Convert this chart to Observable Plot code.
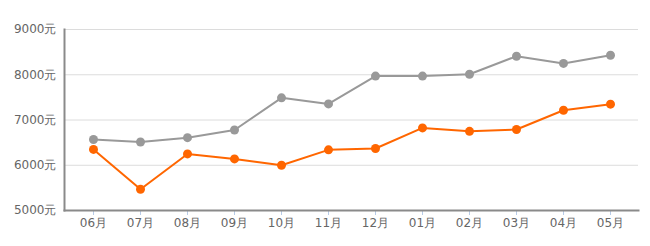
<!DOCTYPE html>
<html>
<head>
<meta charset="utf-8">
<script src="https://cdn.jsdelivr.net/npm/d3@7"></script>
<script src="https://cdn.jsdelivr.net/npm/@observablehq/plot@0.6"></script>
<style>
  html, body { margin: 0; padding: 0; background: #fff; }
  #chart svg { display: block; }
</style>
</head>
<body>
<div id="chart"></div>
<script>
const months = ["06月","07月","08月","09月","10月","11月","12月","01月","02月","03月","04月","05月"];
const grayValues = [6570, 6515, 6610, 6780, 7490, 7355, 7970, 7970, 8010, 8410, 8250, 8430];
const orangeValues = [6350, 5470, 6250, 6140, 6000, 6340, 6370, 6825, 6750, 6790, 7215, 7350];
const yTicks = [5000, 6000, 7000, 8000, 9000];

const gray = months.map((m, i) => ({month: m, value: grayValues[i]}));
const orange = months.map((m, i) => ({month: m, value: orangeValues[i]}));

const chart = Plot.plot({
  width: 650,
  height: 246,
  marginLeft: 64,
  marginRight: 12,
  marginTop: 29,
  marginBottom: 36,
  style: {fontFamily: "DejaVu Sans", fontSize: "12px", color: "#666", background: "#fff"},
  x: {type: "point", domain: months, padding: 0.5, label: null},
  y: {domain: [5000, 9000], label: null},
  marks: [
    Plot.gridY(yTicks, {stroke: "#dcdcdc", strokeOpacity: 1, strokeWidth: 1}),
    Plot.axisY(yTicks, {tickSize: 0, tickPadding: 8, tickFormat: d => d + "元", fill: "#666"}),
    Plot.axisX({tickSize: 5, stroke: "#b8cce8", tickPadding: 3, fill: "#666"}),
    Plot.frame({anchor: "left", stroke: "#8a8a8a", strokeWidth: 2}),
    Plot.frame({anchor: "bottom", stroke: "#8a8a8a", strokeWidth: 2}),
    Plot.line(gray, {x: "month", y: "value", stroke: "#999999", strokeWidth: 2}),
    Plot.dot(gray, {x: "month", y: "value", r: 4.5, fill: "#999999", stroke: "none"}),
    Plot.line(orange, {x: "month", y: "value", stroke: "#ff6600", strokeWidth: 2}),
    Plot.dot(orange, {x: "month", y: "value", r: 4.5, fill: "#ff6600", stroke: "none"})
  ]
});
document.getElementById("chart").appendChild(chart);
</script>
</body>
</html>
